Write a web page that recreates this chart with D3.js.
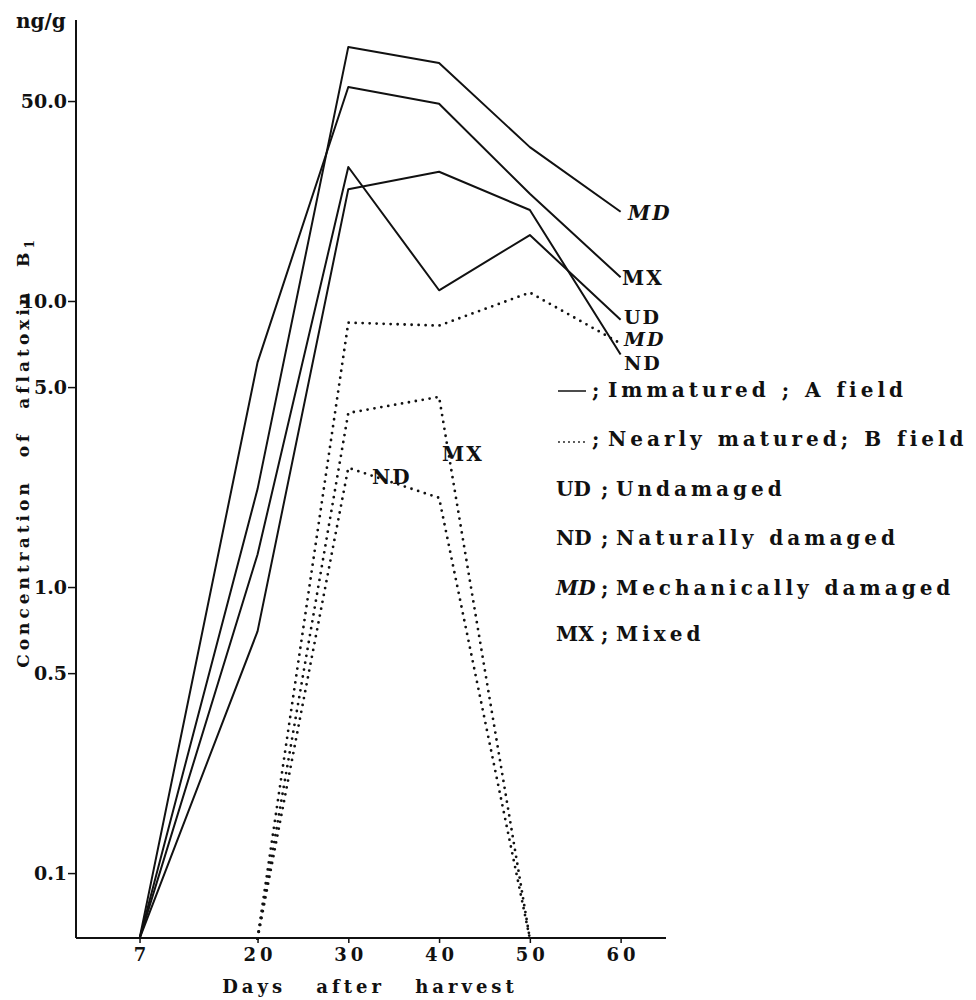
<!DOCTYPE html>
<html>
<head>
  <meta charset="utf-8">
  <title>Aflatoxin B1</title>
  <script src="https://cdn.jsdelivr.net/npm/d3@7"></script>
  <style>
    body { margin: 0; background: #fff; }
    svg text { font-family: "DejaVu Serif", serif; font-weight: bold; fill: #111; }
  </style>
</head>
<body>
<div id="chart"></div>
<script>
// values (ng/g, log scale); 0.059 = not detected, drawn on the axis
const ndLevel = 0.059;
const daysA = [7, 20, 30, 40, 50, 60];
const aMD = [ndLevel, 2.2, 77.3, 67.9, 34.5, 20.5];
const aMX = [ndLevel, 6.1, 56.0, 48.9, 23.7, 12.1];
const aUD = [ndLevel, 1.3, 29.4, 10.9, 17.0, 8.6];
const aND = [ndLevel, 0.7, 24.6, 28.3, 20.8, 6.5];

const daysBMD = [20, 30, 40, 50, 60];
const bMD = [ndLevel, 8.4, 8.2, 10.7, 7.1];
const daysB = [20, 30, 40, 50];
const bMX = [ndLevel, 4.06, 4.62, ndLevel];
const bND = [ndLevel, 2.61, 2.05, ndLevel];

const xTicks = [7, 20, 30, 40, 50, 60];
const yTicks = [0.1, 0.5, 1.0, 5.0, 10.0, 50.0];
const yTickLabels = ["0.1", "0.5", "1.0", "5.0", "10.0", "50.0"];

const legendKeys = ["UD", "ND", "MD", "MX"];
const legendNames = ["Undamaged", "Naturally damaged", "Mechanically damaged", "Mixed"];
const fieldNames = ["Immatured ; A field", "Nearly matured; B field"];

var width = 976, height = 1000;
var svg = d3.select("#chart").append("svg")
    .attr("width", width)
    .attr("height", height);

var x = d3.scaleLinear().domain([0, 65]).range([76, 666]);
var y = d3.scaleLog().domain([0.0593, 96]).range([938, 20]);

// axes
svg.append("line").attr("x1", x(0)).attr("x2", x(0)).attr("y1", y(96)).attr("y2", y(0.0593))
  .attr("stroke", "#111").attr("stroke-width", 2);
svg.append("line").attr("x1", x(0)).attr("x2", x(65)).attr("y1", y(0.0593)).attr("y2", y(0.0593))
  .attr("stroke", "#111").attr("stroke-width", 2);

var yAxis = d3.axisLeft(y).tickValues(yTicks)
  .tickFormat(function(d, i) { return yTickLabels[i]; })
  .tickSize(8).tickSizeOuter(0).tickPadding(1);
var gy = svg.append("g").attr("transform", "translate(" + x(0) + ",0)").call(yAxis);
gy.select(".domain").remove();
gy.selectAll("line").attr("stroke", "#111").attr("stroke-width", 1.5);
gy.selectAll("text").attr("font-size", 19).attr("letter-spacing", 0)
  .style("font-family", "DejaVu Serif").style("font-weight", "bold").attr("fill", "#111");

var xAxis = d3.axisBottom(x).tickValues(xTicks).tickSize(5).tickSizeOuter(0).tickPadding(5);
var gx = svg.append("g").attr("transform", "translate(0," + y(0.0593) + ")").call(xAxis);
gx.select(".domain").remove();
gx.selectAll("line").attr("stroke", "#111").attr("stroke-width", 1.5);
gx.selectAll("text").attr("font-size", 18).attr("letter-spacing", 4).attr("dx", 2)
  .style("font-family", "DejaVu Serif").style("font-weight", "bold").attr("fill", "#111");

// axis titles
svg.append("text").attr("x", 16).attr("y", 28).attr("font-size", 20).text("ng/g");
svg.append("text").attr("x", 370).attr("y", 993).attr("text-anchor", "middle")
  .attr("font-size", 18).attr("letter-spacing", 4).attr("word-spacing", 20).text("Days after harvest");
var yt = svg.append("text").attr("transform", "translate(29,452) rotate(-90)")
  .attr("text-anchor", "middle").attr("font-size", 17).attr("letter-spacing", 4).attr("word-spacing", 12);
yt.append("tspan").text("Concentration of aflatoxin B");
yt.append("tspan").attr("font-size", 12).attr("dy", 5).text("1");

// series
var line = d3.line().x(function(d) { return x(d[0]); }).y(function(d) { return y(d[1]); });
function draw(days, vals, dotted) {
  var p = svg.append("path")
    .datum(d3.zip(days, vals))
    .attr("d", line)
    .attr("fill", "none")
    .attr("stroke", "#111")
    .attr("stroke-linejoin", "round");
  if (dotted) {
    p.attr("stroke-width", 2.8).attr("stroke-linecap", "round").attr("stroke-dasharray", "0 7");
  } else {
    p.attr("stroke-width", 2);
  }
}
draw(daysA, aMD, false);
draw(daysA, aMX, false);
draw(daysA, aUD, false);
draw(daysA, aND, false);
draw(daysBMD, bMD, true);
draw(daysB, bMX, true);
draw(daysB, bND, true);

// end labels
function label(tx, ty, s, italic, size) {
  var t = svg.append("text").attr("x", tx).attr("y", ty).attr("font-size", size || 20)
    .attr("letter-spacing", 2).text(s);
  if (italic) t.attr("font-style", "italic");
}
label(628, 220, "MD", true);
label(622, 285, "MX", false);
label(624, 324, "UD", false, 19);
label(624, 346, "MD", true, 19);
label(624, 370, "ND", false, 19);
label(442, 461, "MX", false);
label(372, 484, "ND", false);

// legend
var lg = svg.append("g");
var rowY = [397, 446, 496, 545, 595, 641];
var fs = 20, ls = 4, ws = 1;
lg.append("line").attr("x1", 558).attr("x2", 586).attr("y1", rowY[0] - 6).attr("y2", rowY[0] - 6)
  .attr("stroke", "#111").attr("stroke-width", 1.5);
lg.append("line").attr("x1", 559).attr("x2", 586).attr("y1", rowY[1] - 4).attr("y2", rowY[1] - 4)
  .attr("stroke", "#111").attr("stroke-width", 1.8).attr("stroke-linecap", "round").attr("stroke-dasharray", "0 5");
fieldNames.forEach(function(s, i) {
  lg.append("text").attr("x", 592).attr("y", rowY[i]).attr("font-size", fs).text(";");
  lg.append("text").attr("x", 608).attr("y", rowY[i]).attr("font-size", fs)
    .attr("letter-spacing", ls).attr("word-spacing", ws).text(s);
});
legendKeys.forEach(function(k, i) {
  lg.append("text").attr("x", 556).attr("y", rowY[i + 2]).attr("font-size", fs)
    .attr("font-style", k == "MD" ? "italic" : "normal").text(k);
  lg.append("text").attr("x", 601).attr("y", rowY[i + 2]).attr("font-size", fs).text(";");
  lg.append("text").attr("x", 616).attr("y", rowY[i + 2]).attr("font-size", fs)
    .attr("letter-spacing", ls).attr("word-spacing", ws).text(legendNames[i]);
});
</script>
</body>
</html>
